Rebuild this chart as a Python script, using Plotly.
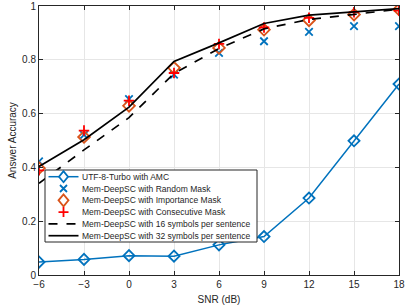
import plotly.graph_objects as go

snr = [-6, -3, 0, 3, 6, 9, 12, 15, 18]
utf8_turbo = [0.048, 0.058, 0.072, 0.070, 0.112, 0.143, 0.286, 0.499, 0.710]
random_mask = [0.422, 0.521, 0.654, 0.745, 0.826, 0.869, 0.904, 0.925, 0.925]
importance_mask = [0.397, 0.513, 0.629, 0.770, 0.844, 0.912, 0.947, 0.968, 0.987]
consecutive_mask = [0.389, 0.537, 0.648, 0.751, 0.859, 0.920, 0.956, 0.977, 0.983]
sym16 = [0.341, 0.465, 0.585, 0.749, 0.842, 0.915, 0.950, 0.970, 0.988]
sym32 = [0.403, 0.503, 0.624, 0.794, 0.863, 0.935, 0.966, 0.978, 0.990]

names = [
    "UTF-8-Turbo with AMC",
    "Mem-DeepSC with Random Mask",
    "Mem-DeepSC with Importance Mask",
    "Mem-DeepSC with Consecutive Mask",
    "Mem-DeepSC with 16 symbols per sentence",
    "Mem-DeepSC with 32 symbols per sentence",
]

blue = "#0072BD"
orange = "#D95319"
red = "#FF0000"
ink = "#262626"
FONT = "Liberation Sans, Arial, sans-serif"

W, H = 409, 307
ML, MR, MT, MB = 39, 10, 6, 32
PW, PH = W - ML - MR, H - MT - MB


def px_x(p):
    return (p - ML) / PW


def px_y(p):
    return (H - MB - p) / PH


fig = go.Figure()
fig.add_trace(go.Scatter(x=snr, y=utf8_turbo, name=names[0], mode="lines+markers",
                         line=dict(color=blue, width=1.5),
                         marker=dict(symbol="diamond-open", size=8.5, color=blue, line=dict(width=1.8))))
fig.add_trace(go.Scatter(x=snr, y=random_mask, name=names[1], mode="markers",
                         marker=dict(symbol="x-thin-open", size=7.5, color=blue, line=dict(width=1.8, color=blue))))
fig.add_trace(go.Scatter(x=snr, y=importance_mask, name=names[2], mode="markers",
                         marker=dict(symbol="diamond-open", size=9, color=orange, line=dict(width=1.8))))
fig.add_trace(go.Scatter(x=snr, y=consecutive_mask, name=names[3], mode="markers",
                         marker=dict(symbol="cross-thin-open", size=7.5, color=red, line=dict(width=1.8, color=red))))
fig.add_trace(go.Scatter(x=snr, y=sym16, name=names[4], mode="lines",
                         line=dict(color="black", width=1.7, dash="dash")))
fig.add_trace(go.Scatter(x=snr, y=sym32, name=names[5], mode="lines",
                         line=dict(color="black", width=1.7)))

# ---- compact legend drawn with shapes/annotations (pixel geometry) ----
shapes = []
annotations = []
LX0, LX1, LT, LB = 45, 257, 170, 242
shapes.append(dict(type="rect", xref="paper", yref="paper",
                   x0=px_x(LX0), x1=px_x(LX1), y0=px_y(LB), y1=px_y(LT),
                   line=dict(color=ink, width=1), fillcolor="white", layer="above"))
row_y = [176.7, 188.5, 200.3, 212.1, 223.9, 235.7]
sx0, sx1, tx = 48.5, 78.5, 79.5
sxm = (sx0 + sx1) / 2

diamond_path = "M 0 -6 L 5 0 L 0 6 L -5 0 Z"
diamond_small = "M 0 -5.5 L 4.5 0 L 0 5.5 L -4.5 0 Z"
x_path = "M -3.5 -3.5 L 3.5 3.5 M -3.5 3.5 L 3.5 -3.5"
plus_path = "M -5 0 L 5 0 M 0 -5 L 0 5"

for i, (name, yy) in enumerate(zip(names, row_y)):
    yp = px_y(yy)
    if i == 0:
        shapes.append(dict(type="line", xref="paper", yref="paper", x0=px_x(sx0), x1=px_x(sx1),
                           y0=yp, y1=yp, line=dict(color=blue, width=1.5), layer="above"))
    if i == 4:
        shapes.append(dict(type="line", xref="paper", yref="paper", x0=px_x(sx0), x1=px_x(sx1),
                           y0=yp, y1=yp, line=dict(color="black", width=1.7, dash="dash"), layer="above"))
    if i == 5:
        shapes.append(dict(type="line", xref="paper", yref="paper", x0=px_x(sx0), x1=px_x(sx1),
                           y0=yp, y1=yp, line=dict(color="black", width=1.7), layer="above"))
    marker_paths = {0: (diamond_small, blue, "white"), 1: (x_path, blue, None),
                    2: (diamond_path, orange, "white"), 3: (plus_path, red, None)}
    if i in marker_paths:
        path, col, fill = marker_paths[i]
        sh = dict(type="path", xref="paper", yref="paper", xsizemode="pixel", ysizemode="pixel",
                  xanchor=px_x(sxm), yanchor=yp, path=path,
                  line=dict(color=col, width=1.8), layer="above")
        if fill:
            sh["fillcolor"] = fill
        shapes.append(sh)
    annotations.append(dict(text=name, xref="paper", yref="paper", x=px_x(tx), y=yp,
                            xanchor="left", yanchor="middle", showarrow=False,
                            font=dict(family=FONT, size=8.5, color=ink)))

axis_common = dict(showline=True, linecolor=ink, linewidth=1, mirror="ticks",
                   ticks="inside", ticklen=4, tickcolor=ink, automargin=False,
                   showgrid=True, gridcolor="#E6E6E6", gridwidth=1, zeroline=False,
                   tickfont=dict(family=FONT, size=10, color=ink))

fig.update_layout(
    width=W, height=H,
    margin=dict(l=ML, r=MR, t=MT, b=MB, autoexpand=False),
    paper_bgcolor="white", plot_bgcolor="white",
    font=dict(family=FONT, size=10, color=ink),
    showlegend=False,
    xaxis=dict(range=[-6, 18], tickvals=snr, title=dict(text="SNR (dB)", standoff=6,
               font=dict(size=10)), **axis_common),
    yaxis=dict(range=[0, 1], tickvals=[0, 0.2, 0.4, 0.6, 0.8, 1], title=dict(text="Answer Accuracy", standoff=3,
               font=dict(size=10)), **axis_common),
    shapes=shapes,
    annotations=annotations,
)

fig.write_html("out.html", config={"displayModeBar": False},
               post_script="document.body.style.margin='0';")
